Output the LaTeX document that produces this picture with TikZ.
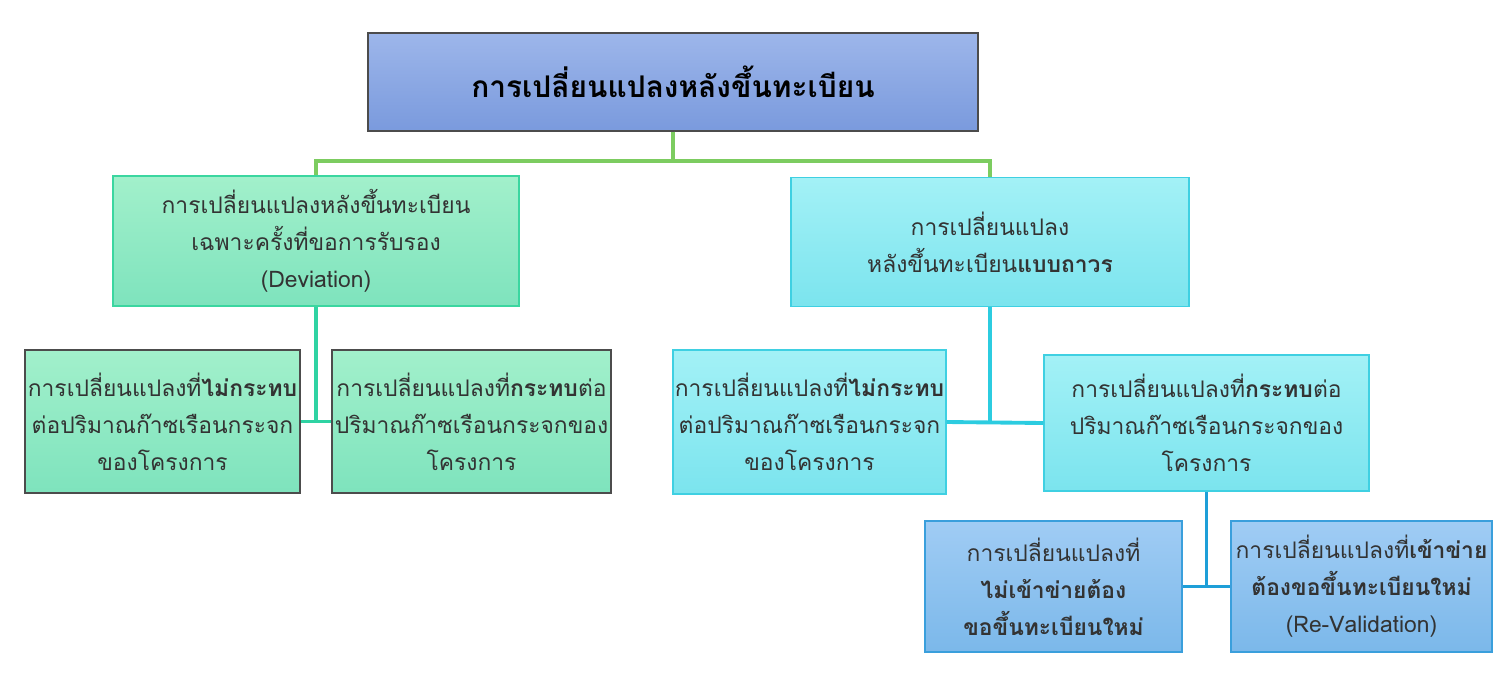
\documentclass[tikz,border=0pt]{standalone}
\usepackage{fontspec}
\newfontfamily\thaifont[Script=Thai]{Loma}
\definecolor{topA}{HTML}{9DB6EA}
\definecolor{topB}{HTML}{7A9ADD}
\definecolor{grnA}{HTML}{A2F0CB}
\definecolor{grnB}{HTML}{7EE3BD}
\definecolor{grnE}{HTML}{3BD6A0}
\definecolor{cyA}{HTML}{A3F1F6}
\definecolor{cyB}{HTML}{7BE4EE}
\definecolor{cyE}{HTML}{3FD0E2}
\definecolor{blA}{HTML}{A0CCF4}
\definecolor{blB}{HTML}{7BB8EA}
\definecolor{blE}{HTML}{3A9FDC}
\definecolor{lnG}{HTML}{7CCC60}
\definecolor{lnT}{HTML}{2FD3A3}
\definecolor{lnC}{HTML}{2CCCE0}
\definecolor{lnB}{HTML}{1E9FD8}
\begin{document}
\begin{tikzpicture}[x=0.02cm, y=-0.02cm, every node/.style={font=\thaifont\fontsize{13}{21}\selectfont, align=center, text=black!80},
    box/.style={draw, line width=0.8pt, inner sep=0pt},
    grnbox/.style={box, top color=grnA, bottom color=grnB},
    cybox/.style={box, top color=cyA, bottom color=cyB, draw=cyE},
    blbox/.style={box, top color=blA, bottom color=blB, draw=blE},
    link/.style={line width=2.2pt}]
    \useasboundingbox (0,0) rectangle (1512,677);

    % Top
    \node[box, top color=topA, bottom color=topB, draw=black!70, minimum width=610*0.02cm, minimum height=98*0.02cm,
      font=\thaifont\bfseries\fontsize{17}{21}\selectfont, text=black] (root) at (673,82) {การเปลี่ยนแปลงหลังขึ้นทะเบียน};

    % Second level
    \node[grnbox, draw=grnE, minimum width=406*0.02cm, minimum height=130*0.02cm] (dev) at (316,241)
      {การเปลี่ยนแปลงหลังขึ้นทะเบียน\\เฉพาะครั้งที่ขอการรับรอง\\(Deviation)};
    \node[cybox, minimum width=398*0.02cm, minimum height=129*0.02cm] (perm) at (990,242)
      {การเปลี่ยนแปลง\\หลังขึ้นทะเบียน\textbf{แบบถาวร}};

    % Third level
    \node[grnbox, draw=black!70, minimum width=275*0.02cm, minimum height=143*0.02cm] (devno) at (162.5,421.5)
      {การเปลี่ยนแปลงที่\textbf{ไม่กระทบ}\\ต่อปริมาณก๊าซเรือนกระจก\\ของโครงการ};
    \node[grnbox, draw=black!70, minimum width=279*0.02cm, minimum height=143*0.02cm] (devyes) at (471.5,421.5)
      {การเปลี่ยนแปลงที่\textbf{กระทบ}ต่อ\\ปริมาณก๊าซเรือนกระจกของ\\โครงการ};
    \node[cybox, minimum width=273*0.02cm, minimum height=144*0.02cm] (permno) at (809.5,422)
      {การเปลี่ยนแปลงที่\textbf{ไม่กระทบ}\\ต่อปริมาณก๊าซเรือนกระจก\\ของโครงการ};
    \node[cybox, minimum width=325*0.02cm, minimum height=136*0.02cm] (permyes) at (1206.5,423)
      {การเปลี่ยนแปลงที่\textbf{กระทบ}ต่อ\\ปริมาณก๊าซเรือนกระจกของ\\โครงการ};

    % Fourth level
    \node[blbox, minimum width=257*0.02cm, minimum height=131*0.02cm] (outnet) at (1053.5,586.5)
      {การเปลี่ยนแปลงที่\\\textbf{ไม่เข้าข่ายต้อง}\\\textbf{ขอขึ้นทะเบียนใหม่}};
    \node[blbox, minimum width=261*0.02cm, minimum height=131*0.02cm] (innet) at (1361.5,586.5)
      {การเปลี่ยนแปลงที่\textbf{เข้าข่าย}\\\textbf{ต้องขอขึ้นทะเบียนใหม่}\\(Re-Validation)};

    % Connections
    \draw[link, lnG] (root.south) -- ++(0,29) -| (dev.north);
    \draw[link, lnG] (root.south) -- ++(0,29) -| (perm.north);

    \draw[link, lnT] (dev.south) |- (devno.east);
    \draw[link, lnT] (devno.east) -- (devyes.west);

    \draw[link, lnC] (perm.south) -- (perm.south |- permno.east);
    \draw[link, lnC] (permno.east) -- (permyes.west);

    \draw[link, lnB] (permyes.south) -- (permyes.south |- outnet.east);
    \draw[link, lnB] (outnet.east) -- (innet.west);
\end{tikzpicture}
\end{document}
